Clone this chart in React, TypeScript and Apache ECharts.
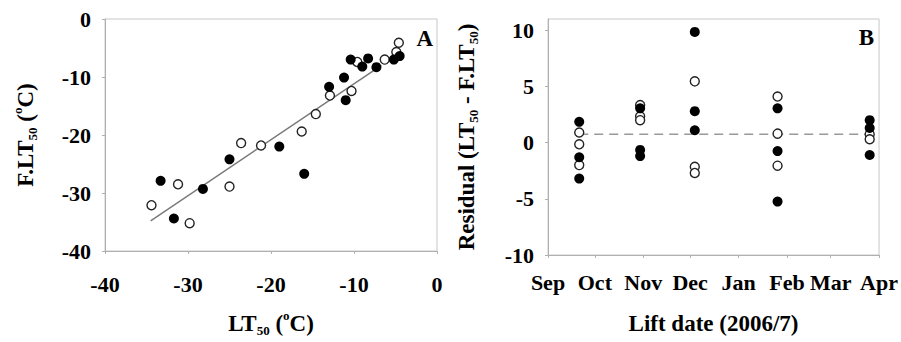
import React, { useEffect, useRef } from "react";
import * as echarts from "echarts";

// Panel A: observed LT50 (x) vs field LT50 (y), °C
const filledA: number[][] = [
  [-33.3, -27.9], [-31.7, -34.4], [-28.2, -29.3], [-25.0, -24.2], [-19.0, -22.0],
  [-16.0, -26.7], [-13.0, -11.7], [-11.2, -10.1], [-11.0, -14.0], [-10.4, -7.0],
  [-9.0, -8.2], [-8.3, -6.8], [-7.3, -8.3], [-5.2, -7.0], [-4.5, -6.4],
];
const openA: number[][] = [
  [-34.4, -32.1], [-31.2, -28.5], [-29.8, -35.2], [-25.0, -28.9], [-23.6, -21.4],
  [-21.2, -21.8], [-16.3, -19.4], [-14.6, -16.4], [-12.9, -13.2], [-10.3, -12.4],
  [-9.6, -7.4], [-6.3, -7.0], [-4.9, -5.7], [-4.6, -4.1],
];
const fitLineA: number[][] = [[-34.5, -34.8], [-6.7, -8.0]];

// Panel B: residuals by lift date (days since 1 Sep 2006)
const monthStarts = [0, 30, 61, 91, 122, 153, 181, 212];
const monthLabels = ["Sep", "Oct", "Nov", "Dec", "Jan", "Feb", "Mar", "Apr"];
const residualTicks = [-10, -5, 0, 5, 10];
const filledB: number[][] = [
  [20, 1.85], [20, -1.3], [20, -3.2],
  [59, 3.05], [59, -0.65], [59, -1.2],
  [94, 9.85], [94, 2.8], [94, 1.1],
  [147, 3.05], [147, -0.75], [147, -5.25],
  [206, 2.0], [206, 1.3], [206, -1.1],
];
const openB: number[][] = [
  [20, 0.9], [20, -0.15], [20, -2.0],
  [59, 3.35], [59, 2.35], [59, 2.0],
  [94, 5.45], [94, -2.15], [94, -2.7],
  [147, 4.1], [147, 0.8], [147, -2.05],
  [206, 0.75], [206, 0.3],
];
const meanLineB: number[][] = [[20, 0.75], [206, 0.75]];

const FONT = "'Liberation Serif', 'Times New Roman', serif";
const AXIS_GRAY = "#b0b0b0";

const labelStyle = { fontFamily: FONT, fontWeight: "bold" as const, fontSize: 22, color: "#000" };
const rich = {
  sub: { fontFamily: FONT, fontWeight: "bold" as const, fontSize: 13, lineHeight: 13, verticalAlign: "bottom" as const, color: "#000" },
  sup: { fontFamily: FONT, fontWeight: "bold" as const, fontSize: 13, lineHeight: 13, verticalAlign: "top" as const, color: "#000" },
};
const nameStyle = { fontFamily: FONT, fontWeight: "bold" as const, fontSize: 23, color: "#000", lineHeight: 28, rich };

export default function App() {
  const ref = useRef<HTMLDivElement>(null);
  useEffect(() => {
    if (!ref.current) return;
    const chart = echarts.init(ref.current, undefined, { renderer: "svg" });
    const axisCommon = {
      axisLine: { show: true, onZero: false, lineStyle: { color: AXIS_GRAY, width: 1 } },
      axisTick: { show: true, inside: false, length: 3, lineStyle: { color: AXIS_GRAY } },
      splitLine: { show: false },
    };
    chart.setOption({
      animation: false,
      backgroundColor: "#fff",
      grid: [
        { left: 105, top: 19, width: 332, height: 238, show: true, borderColor: "#c8c8c8", borderWidth: 1 },
        { left: 548, top: 19, width: 332, height: 238, show: true, borderColor: "#c8c8c8", borderWidth: 1 },
      ],
      xAxis: [
        {
          ...axisCommon, gridIndex: 0, type: "value", min: -40, max: 0, interval: 10,
          axisLabel: { ...labelStyle, margin: 22 },
          name: "LT{sub|50} ({sup|o}C)", nameLocation: "middle", nameGap: 58, nameTextStyle: nameStyle,
        },
        {
          ...axisCommon, gridIndex: 1, type: "value", min: 0, max: 212,
          axisTick: { ...axisCommon.axisTick, customValues: monthStarts },
          axisLabel: {
            ...labelStyle, margin: 16, customValues: monthStarts,
            formatter: (v: number) => monthLabels[monthStarts.indexOf(v)] ?? "",
          },
          name: "Lift date (2006/7)", nameLocation: "middle", nameGap: 54, nameTextStyle: nameStyle,
        },
      ],
      yAxis: [
        {
          ...axisCommon, gridIndex: 0, type: "value", min: -40, max: 0, interval: 10,
          axisLabel: { ...labelStyle, margin: 14 },
          name: "F.LT{sub|50} ({sup|o}C)", nameLocation: "middle", nameRotate: 90, nameGap: 66, nameTextStyle: nameStyle,
        },
        {
          ...axisCommon, gridIndex: 1, type: "value", min: -10, max: 11,
          axisTick: { ...axisCommon.axisTick, customValues: residualTicks },
          axisLabel: { ...labelStyle, margin: 14, customValues: residualTicks },
          name: "Residual (LT{sub|50} - F.LT{sub|50})", nameLocation: "middle", nameRotate: 90, nameGap: 68, nameTextStyle: nameStyle,
        },
      ],
      graphic: [
        { type: "text", right: 901 - 433, top: 27, style: { text: "A", font: `bold 23px ${FONT}`, fill: "#000" } },
        { type: "text", right: 901 - 874, top: 26, style: { text: "B", font: `bold 23px ${FONT}`, fill: "#000" } },
      ],
      series: [
        {
          type: "line", xAxisIndex: 0, yAxisIndex: 0, data: fitLineA, symbol: "none",
          lineStyle: { color: "#7a7a7a", width: 1.5 }, z: 1,
        },
        {
          type: "scatter", xAxisIndex: 0, yAxisIndex: 0, data: openA, symbol: "circle", symbolSize: 9,
          itemStyle: { color: "#fff", borderColor: "#222", borderWidth: 1.4, opacity: 1 }, z: 3,
        },
        {
          type: "scatter", xAxisIndex: 0, yAxisIndex: 0, data: filledA, symbol: "circle", symbolSize: 10,
          itemStyle: { color: "#000", opacity: 1 }, z: 4,
        },
        {
          type: "line", xAxisIndex: 1, yAxisIndex: 1, data: meanLineB, symbol: "none",
          lineStyle: { color: "#999", width: 1.5, type: [9, 6] }, z: 1,
        },
        {
          type: "scatter", xAxisIndex: 1, yAxisIndex: 1, data: openB, symbol: "circle", symbolSize: 9,
          itemStyle: { color: "#fff", borderColor: "#222", borderWidth: 1.4, opacity: 1 }, z: 3,
        },
        {
          type: "scatter", xAxisIndex: 1, yAxisIndex: 1, data: filledB, symbol: "circle", symbolSize: 10,
          itemStyle: { color: "#000", opacity: 1 }, z: 4,
        },
      ],
    });
    return () => chart.dispose();
  }, []);
  return (
    <div
      ref={ref}
      style={{ position: "fixed", left: 0, top: 0, width: 901, height: 342, background: "#fff" }}
    />
  );
}
